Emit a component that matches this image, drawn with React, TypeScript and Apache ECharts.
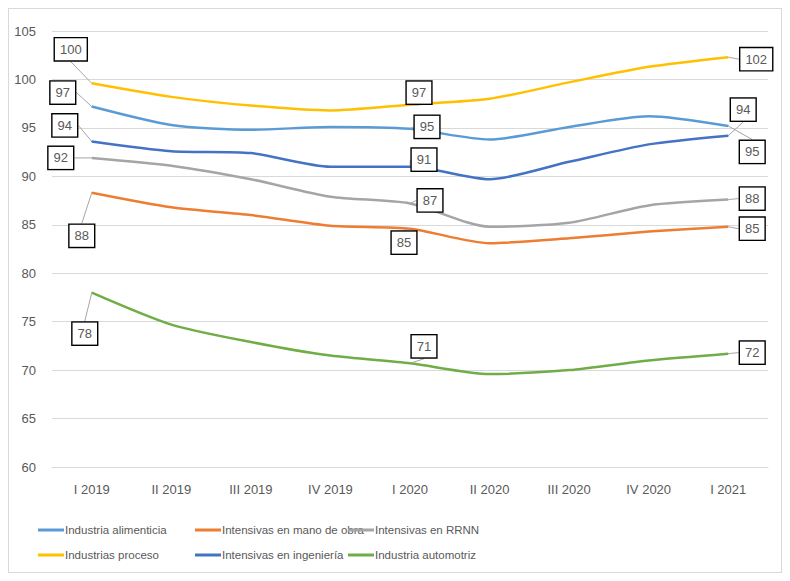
import React, { useEffect, useRef } from "react";
import * as echarts from "echarts";

const categories = ["I 2019", "II 2019", "III 2019", "IV 2019", "I 2020", "II 2020", "III 2020", "IV 2020", "I 2021"];
const yTicks = { min: 60, max: 105, step: 5 };

const alimenticia = [97.2, 95.3, 94.8, 95.1, 94.9, 93.8, 95.1, 96.2, 95.2];
const manoDeObra = [88.3, 86.8, 86.0, 84.9, 84.6, 83.1, 83.6, 84.3, 84.8];
const rrnn = [91.9, 91.1, 89.7, 87.9, 87.2, 84.8, 85.2, 87.0, 87.6];
const proceso = [99.6, 98.2, 97.3, 96.8, 97.4, 98.0, 99.7, 101.3, 102.3];
const ingenieria = [93.6, 92.6, 92.4, 91.0, 91.0, 89.7, 91.5, 93.3, 94.2];
const automotriz = [78.0, 74.7, 72.9, 71.5, 70.7, 69.6, 70.0, 71.0, 71.7];

const seriesNames = [
  "Industria alimenticia",
  "Intensivas en mano de obra",
  "Intensivas en RRNN",
  "Industrias proceso",
  "Intensivas en ingeniería",
  "Industria automotriz",
];
const seriesValues = [alimenticia, manoDeObra, rrnn, proceso, ingenieria, automotriz];
const seriesColors = ["#5B9BD5", "#ED7D31", "#A5A5A5", "#FFC000", "#4472C4", "#70AD47"];

// indices of the quarters that carry a value box
const labelledPoints = [0, 4, 8];

// box displacement (px) from its point, per series, per labelled quarter
const labelShift: Record<number, Record<number, [number, number]>> = {
  0: { 0: [-29, -14], 4: [17, -2], 8: [24, 26] },
  1: { 0: [-10, 43], 4: [-6, 14], 8: [24, 2] },
  2: { 0: [-31, 0], 4: [20, -3], 8: [24, -1] },
  3: { 0: [-21, -34], 4: [9, -12], 8: [28, 2] },
  4: { 0: [-27, -16], 4: [14, -7], 8: [15, -26] },
  5: { 0: [-7, 41], 4: [14, -17], 8: [24, -1] },
};

const FONT = "'Liberation Sans', Arial, sans-serif";

export default function App() {
  const ref = useRef<HTMLDivElement>(null);

  useEffect(() => {
    if (!ref.current) return;
    const chart = echarts.init(ref.current, undefined, { renderer: "svg" });

    const series = seriesNames.map((name, s) => ({
      name,
      type: "line",
      smooth: 0.25,
      symbol: "circle",
      symbolSize: 1,
      showSymbol: true,
      lineStyle: { width: 2.5, color: seriesColors[s] },
      itemStyle: { color: seriesColors[s] },
      emphasis: { disabled: true },
      data: seriesValues[s].map((v, i) => ({
        value: v,
        label: { show: labelledPoints.includes(i) },
      })),
      label: {
        show: false,
        position: "inside",
        formatter: (p: any) => String(Math.round(p.value)),
        color: "#595959",
        fontFamily: FONT,
        fontSize: 13,
        backgroundColor: "#ffffff",
        borderColor: "#000000",
        borderWidth: 1.4,
        padding: [5, 5, 4, 5],
      },
      labelLine: { show: true, lineStyle: { color: "#a6a6a6", width: 1 } },
      labelLayout: (params: any) => {
        const o = (labelShift[s] || {})[params.dataIndex] || [0, 0];
        return { dx: o[0], dy: o[1] };
      },
    }));

    const legendCols = [
      [seriesNames[0], seriesNames[3]],
      [seriesNames[1], seriesNames[4]],
      [seriesNames[2], seriesNames[5]],
    ];
    const legendLefts = [24, 181, 334];

    chart.setOption({
      animation: false,
      grid: { left: 43, right: 13, top: 22, bottom: 105 },
      xAxis: {
        type: "category",
        data: categories,
        boundaryGap: true,
        axisLine: { show: true, lineStyle: { color: "#d9d9d9" } },
        axisTick: { show: false },
        axisLabel: { color: "#595959", fontFamily: FONT, fontSize: 13, margin: 16 },
      },
      yAxis: {
        type: "value",
        min: yTicks.min,
        max: yTicks.max,
        interval: yTicks.step,
        axisLine: { show: false },
        axisTick: { show: false },
        axisLabel: { color: "#595959", fontFamily: FONT, fontSize: 13, margin: 16 },
        splitLine: { lineStyle: { color: "#d9d9d9", width: 1 } },
      },
      legend: legendCols.map((data, c) => ({
        data,
        orient: "vertical",
        left: legendLefts[c],
        top: 509,
        icon: "rect",
        itemWidth: 26,
        itemHeight: 3,
        itemGap: 11,
        selectedMode: false,
        textStyle: {
          color: "#595959",
          fontFamily: FONT,
          fontSize: 11.5,
          lineHeight: 14,
          padding: [0, 0, 0, -4],
        },
      })),
      series,
    });

    return () => chart.dispose();
  }, []);

  return (
    <div
      ref={ref}
      style={{
        width: 774,
        height: 565,
        border: "1px solid #d9d9d9",
        boxSizing: "border-box",
        background: "#fff",
      }}
    />
  );
}
